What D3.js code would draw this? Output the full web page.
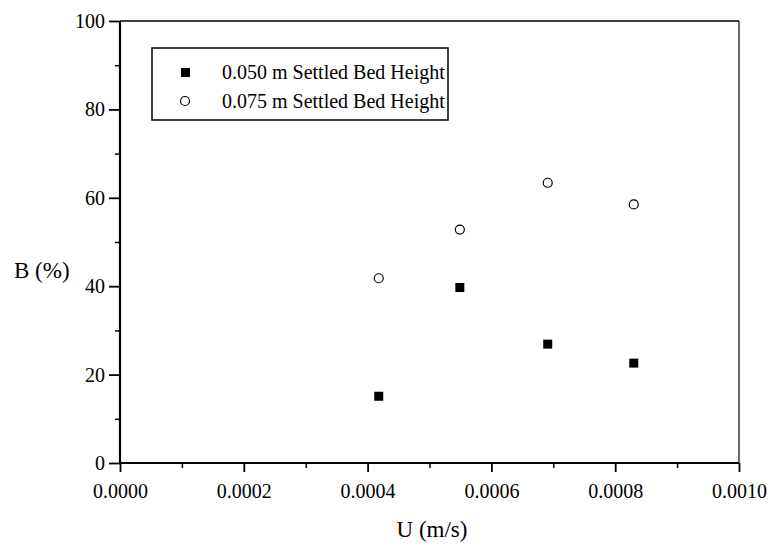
<!DOCTYPE html>
<html><head><meta charset="utf-8">
<script src="https://cdn.jsdelivr.net/npm/d3@7"></script>
<style>body{margin:0;background:#fff}svg{display:block}svg text{font-family:'Liberation Serif','DejaVu Serif','Times New Roman',Times,serif !important;fill:#000}</style>
</head><body>
<script>
const uValues = [0.000418, 0.000549, 0.000691, 0.00083];
const b050 = [15.1, 39.7, 26.9, 22.6];
const b075 = [41.8, 52.8, 63.4, 58.5];
const seriesNames = ["0.050 m Settled Bed Height", "0.075 m Settled Bed Height"];
const xTicks = [0, 0.0002, 0.0004, 0.0006, 0.0008, 0.0010];
const yTicks = [0, 20, 40, 60, 80, 100];

const W = 776, H = 551;
const FONT = "'Liberation Serif','DejaVu Serif',serif";
const svg = d3.select("body").append("svg").attr("width", W).attr("height", H);
const x = d3.scaleLinear().domain([0, 0.001]).range([120, 739]);
const y = d3.scaleLinear().domain([0, 100]).range([463, 21]);

// frame
svg.append("line").attr("x1", 120).attr("x2", 739).attr("y1", 21).attr("y2", 21).attr("stroke", "#000").attr("stroke-width", 1.5);
svg.append("line").attr("x1", 739).attr("x2", 739).attr("y1", 21).attr("y2", 463).attr("stroke", "#000").attr("stroke-width", 1.2);

// minor ticks
const xMinor = d3.range(0.0001, 0.001, 0.0002);
svg.append("g").attr("transform", "translate(0,463)")
  .call(d3.axisBottom(x).tickValues(xMinor).tickSize(5).tickFormat(""))
  .call(g => g.select(".domain").remove())
  .selectAll("line").attr("stroke-width", 1.5);
const yMinor = d3.range(10, 100, 20);
svg.append("g").attr("transform", "translate(120,0)")
  .call(d3.axisLeft(y).tickValues(yMinor).tickSize(5).tickFormat(""))
  .call(g => g.select(".domain").remove())
  .selectAll("line").attr("stroke-width", 1.5);

// major axes
const xAxis = svg.append("g").attr("transform", "translate(0,463)")
  .call(d3.axisBottom(x).tickValues(xTicks).tickSize(9).tickPadding(12).tickFormat(d3.format(".4f")));
xAxis.attr("font-family", FONT).attr("font-size", 20);
xAxis.select(".domain").attr("stroke-width", 2.2).attr("d", "M120,0H739");
xAxis.selectAll("line").attr("stroke-width", 1.8);

const yAxis = svg.append("g").attr("transform", "translate(120,0)")
  .call(d3.axisLeft(y).tickValues(yTicks).tickSize(11).tickPadding(4));
yAxis.attr("font-family", FONT).attr("font-size", 20);
yAxis.select(".domain").attr("stroke-width", 2.2).attr("d", "M0,463V21");
yAxis.selectAll("line").attr("stroke-width", 1.8);

// axis titles
svg.append("text").attr("x", 432).attr("y", 537).attr("text-anchor", "middle").attr("font-family", FONT).attr("font-size", 23).text("U (m/s)");
svg.append("text").attr("x", 14).attr("y", 278).attr("font-family", FONT).attr("font-size", 23).text("B (%)");

// data
svg.append("g").selectAll("rect").data(uValues.map((u, i) => [u, b050[i]])).join("rect")
  .attr("x", d => x(d[0]) - 4.5).attr("y", d => y(d[1]) - 4.5).attr("width", 9).attr("height", 9).attr("fill", "#000");
svg.append("g").selectAll("circle").data(uValues.map((u, i) => [u, b075[i]])).join("circle")
  .attr("cx", d => x(d[0])).attr("cy", d => y(d[1])).attr("r", 4.5).attr("fill", "#fff").attr("stroke", "#000").attr("stroke-width", 1.2);

// legend
const lg = svg.append("g").attr("font-family", FONT).attr("font-size", 20);
lg.append("rect").attr("x", 152).attr("y", 48).attr("width", 296).attr("height", 72).attr("fill", "#fff").attr("stroke", "#000").attr("stroke-width", 1.5);
lg.append("rect").attr("x", 181).attr("y", 68).attr("width", 9).attr("height", 9).attr("fill", "#000");
lg.append("circle").attr("cx", 185).attr("cy", 101).attr("r", 4.5).attr("fill", "#fff").attr("stroke", "#000").attr("stroke-width", 1.2);
lg.append("text").attr("x", 222).attr("y", 79).text(seriesNames[0]);
lg.append("text").attr("x", 222).attr("y", 108).text(seriesNames[1]);
</script>
</body></html>
